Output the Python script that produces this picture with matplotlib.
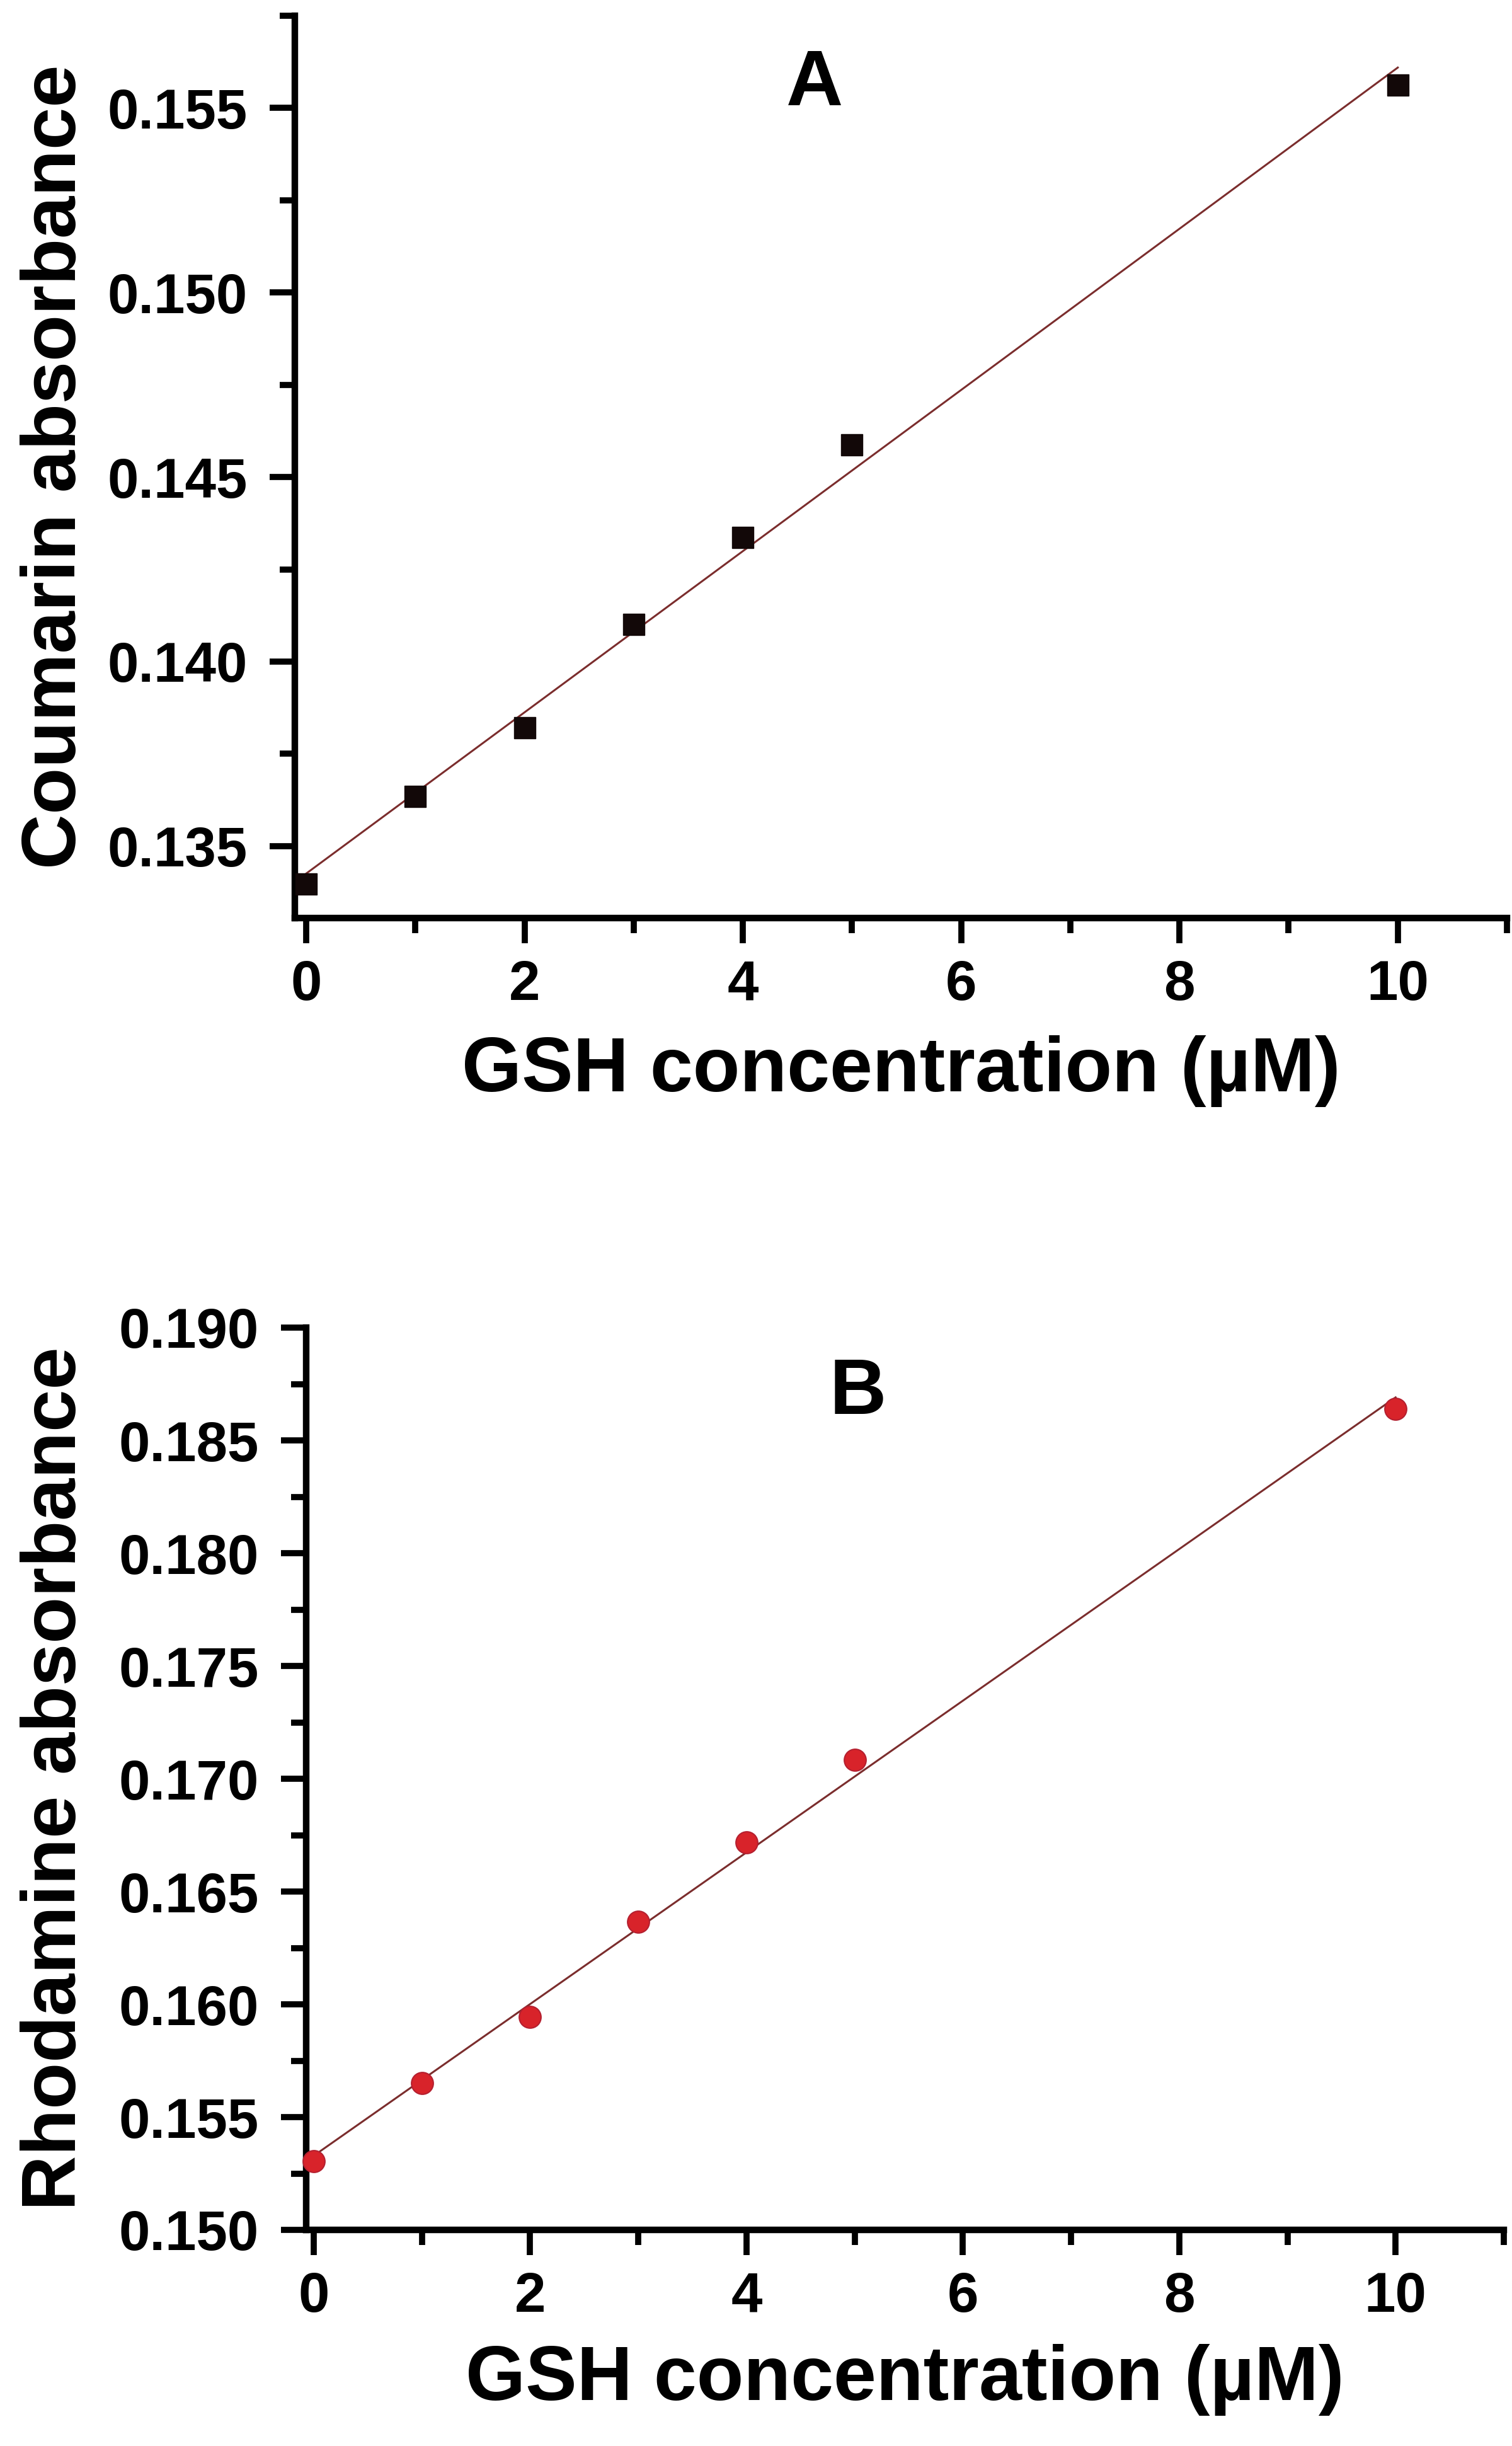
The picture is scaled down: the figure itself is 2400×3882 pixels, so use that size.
import numpy as np
import matplotlib
matplotlib.use("Agg")
import matplotlib.pyplot as plt
from matplotlib.ticker import MultipleLocator, FormatStrFormatter

# ---- data ----
gsh_conc = [0, 1, 2, 3, 4, 5, 10]
coumarin_abs = [0.13397, 0.13634, 0.13820, 0.14100, 0.14337, 0.14588, 0.15563]
rhodamine_abs = [0.15304, 0.15650, 0.15944, 0.16366, 0.16718, 0.17084, 0.18640]
x_ticks = [0, 2, 4, 6, 8, 10]
xlabel_text = "GSH concentration (\u00b5M)"
ylabels = ["Coumarin absorbance", "Rhodamine absorbance"]
panel_letters = ["A", "B"]

plt.rcParams['font.family'] = ['Liberation Sans', 'DejaVu Sans']

W, H = 2400, 3882
fig = plt.figure(figsize=(W / 100, H / 100), dpi=100)
fig.patch.set_facecolor('white')

line_color = '#7b2d2d'


def px_axes(left, top, right, bottom):
    return fig.add_axes([left / W, 1 - bottom / H, (right - left) / W, (bottom - top) / H])


def style(ax, xlim, ylim, yfmt):
    ax.set_xlim(*xlim)
    ax.set_ylim(*ylim)
    for s in ['top', 'right']:
        ax.spines[s].set_visible(False)
    for s in ['left', 'bottom']:
        ax.spines[s].set_linewidth(7.5)
        ax.spines[s].set_capstyle('projecting')
    ax.set_xticks(x_ticks)
    ax.xaxis.set_minor_locator(MultipleLocator(1))
    ax.yaxis.set_major_locator(MultipleLocator(0.005))
    ax.yaxis.set_minor_locator(MultipleLocator(0.0025))
    ax.yaxis.set_major_formatter(FormatStrFormatter(yfmt))
    ax.tick_params(which='major', direction='out', length=29, width=7, labelsize=64)
    ax.tick_params(which='minor', direction='out', length=17, width=7)
    ax.tick_params(axis='x', which='major', pad=18)
    ax.tick_params(axis='y', which='major', pad=25)
    ax.tick_params(axis='both', which='both', top=False, right=False)
    for lab in ax.get_xticklabels() + ax.get_yticklabels():
        lab.set_fontweight('bold')


# ---- panel A ----
ax1 = px_axes(468, 25, 2392, 1457)
fit1 = np.polyfit(gsh_conc, coumarin_abs, 1)
xs = np.array([min(gsh_conc), max(gsh_conc)])
ax1.plot(xs, np.polyval(fit1, xs), color=line_color, lw=2.2, zorder=2, clip_on=False)
ax1.plot(gsh_conc, coumarin_abs, linestyle='none', marker='s', markersize=24.5,
         color='#120808', zorder=3, clip_on=False)
style(ax1, (-0.104, 11.0), (0.13305, 0.1575), '%.3f')

# ---- panel B ----
ax2 = px_axes(486, 2107, 2387, 3539)
fit2 = np.polyfit(gsh_conc, rhodamine_abs, 1)
ax2.plot(xs, np.polyval(fit2, xs), color=line_color, lw=2.2, zorder=2, clip_on=False)
ax2.plot(gsh_conc, rhodamine_abs, linestyle='none', marker='o', markersize=25,
         markerfacecolor='#d8232a', markeredgecolor='#b42030', markeredgewidth=1.5,
         zorder=3, clip_on=False)
style(ax2, (-0.07, 11.0), (0.150, 0.190), '%.3f')

# ---- labels ----
fig.text(1430 / W, 1 - 1700 / H, xlabel_text, ha='center', va='center',
         fontsize=88, fontweight='bold')
fig.text(1436 / W, 1 - 3777 / H, xlabel_text, ha='center', va='center',
         fontsize=88, fontweight='bold')
fig.text(88 / W, 1 - 741 / H, ylabels[0], rotation=90, ha='center', va='center',
         fontsize=87, fontweight='bold')
fig.text(88 / W, 1 - 2823 / H, ylabels[1], rotation=90, ha='center', va='center',
         fontsize=87, fontweight='bold')
fig.text(1293 / W, 1 - 135 / H, panel_letters[0], ha='center', va='center',
         fontsize=90, fontweight='bold')
fig.text(1362 / W, 1 - 2212 / H, panel_letters[1], ha='center', va='center',
         fontsize=90, fontweight='bold')

fig.savefig('out.png', dpi=100, facecolor='white')
